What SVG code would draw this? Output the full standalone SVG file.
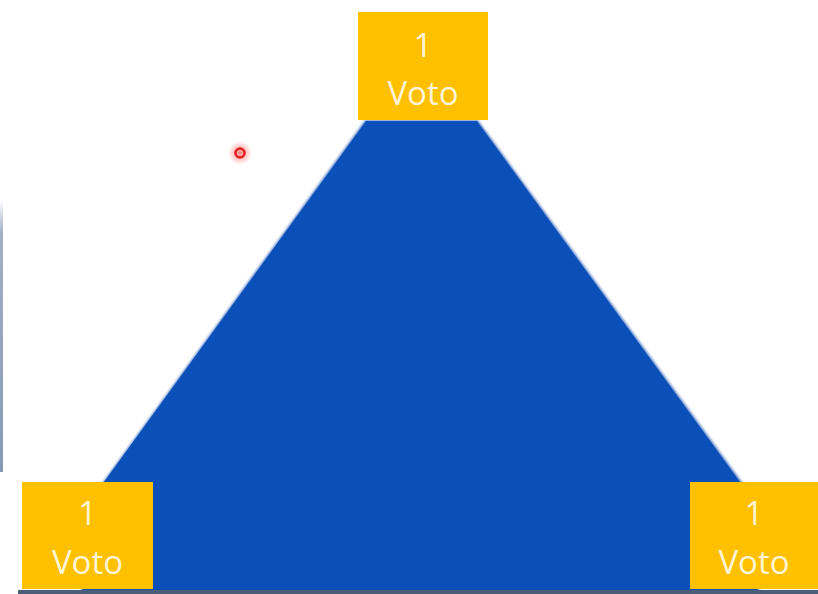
<svg xmlns="http://www.w3.org/2000/svg" width="818" height="594" viewBox="0 0 818 594">
  <style>
    .box { fill: #FFC000; }
    .lbl { font-family: "Open Sans", "Liberation Sans", sans-serif; font-size: 33px; fill: #FFF5D6; text-anchor: middle; }
  </style>
  <defs>
    <filter id="soft" x="-5%" y="-5%" width="110%" height="110%">
      <feGaussianBlur stdDeviation="1.2"/>
    </filter>
    <radialGradient id="glow">
      <stop offset="0" stop-color="#ff3b3b" stop-opacity="0.6"/>
      <stop offset="1" stop-color="#ff3b3b" stop-opacity="0"/>
    </radialGradient>
    <linearGradient id="edge" x1="0" y1="0" x2="0" y2="1">
      <stop offset="0" stop-color="#8A9CB8" stop-opacity="0"/>
      <stop offset="0.12" stop-color="#8A9CB8" stop-opacity="0.8"/>
      <stop offset="1" stop-color="#7A8EAE" stop-opacity="0.9"/>
    </linearGradient>
  </defs>
  <rect width="818" height="594" fill="#ffffff"/>
  <rect x="0" y="200" width="3" height="272" fill="url(#edge)"/>
  <g id="pyramid">
    <polygon points="365,120 478,120 745,486 760,594 80,594 100,486" fill="#6B8FCF" filter="url(#soft)"/>
    <polygon points="366,121 477,121 743,486 758,594 82,594 101,486" fill="#0B50B8"/>
  </g>
  <rect x="18" y="590" width="800" height="4" fill="#4A5E78"/>
  <g id="pointer">
    <circle cx="240" cy="153" r="12" fill="url(#glow)"/>
    <circle cx="240" cy="153" r="4.5" fill="none" stroke="#E01E1E" stroke-width="2.5"/>
  </g>
  <g id="top-voto">
    <rect class="box" x="358" y="12" width="130" height="108"/>
    <text class="lbl" x="423" y="57">1</text>
    <text class="lbl" x="423" y="105">Voto</text>
  </g>
  <g id="left-voto">
    <rect class="box" x="22" y="482" width="131" height="107"/>
    <text class="lbl" x="87.5" y="525">1</text>
    <text class="lbl" x="87.5" y="574">Voto</text>
  </g>
  <g id="right-voto">
    <rect class="box" x="690" y="482" width="128" height="107"/>
    <text class="lbl" x="754" y="525">1</text>
    <text class="lbl" x="754" y="574">Voto</text>
  </g>
</svg>
